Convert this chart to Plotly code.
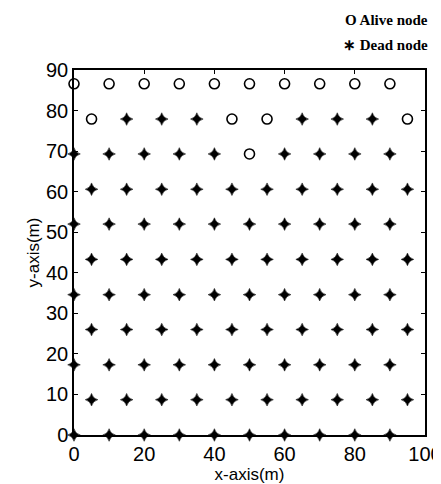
import plotly.graph_objects as go

# Node grid
alive_x = [0, 10, 20, 30, 40, 50, 60, 70, 80, 90, 5, 45, 55, 95, 50]
alive_y = [86.6, 86.6, 86.6, 86.6, 86.6, 86.6, 86.6, 86.6, 86.6, 86.6,
           77.9, 77.9, 77.9, 77.9, 69.3]

dead_x = (
    [0, 10, 20, 30, 40, 50, 60, 70, 80, 90]            # y = 0
    + [5, 15, 25, 35, 45, 55, 65, 75, 85, 95]          # y = 8.7
    + [0, 10, 20, 30, 40, 50, 60, 70, 80, 90]          # y = 17.3
    + [5, 15, 25, 35, 45, 55, 65, 75, 85, 95]          # y = 26
    + [0, 10, 20, 30, 40, 50, 60, 70, 80, 90]          # y = 34.6
    + [5, 15, 25, 35, 45, 55, 65, 75, 85, 95]          # y = 43.3
    + [0, 10, 20, 30, 40, 50, 60, 70, 80, 90]          # y = 52
    + [5, 15, 25, 35, 45, 55, 65, 75, 85, 95]          # y = 60.6
    + [0, 10, 20, 30, 40, 60, 70, 80, 90]              # y = 69.3
    + [15, 25, 35, 65, 75, 85]                         # y = 77.9
)
dead_y = (
    [0.0] * 10
    + [8.7] * 10
    + [17.3] * 10
    + [26.0] * 10
    + [34.6] * 10
    + [43.3] * 10
    + [52.0] * 10
    + [60.6] * 10
    + [69.3] * 9
    + [77.9] * 6
)

x_ticks = [0, 20, 40, 60, 80, 100]
y_ticks = [0, 10, 20, 30, 40, 50, 60, 70, 80, 90]

fig = go.Figure()
fig.add_trace(go.Scatter(
    x=dead_x, y=dead_y, mode="markers", name="Dead node",
    marker=dict(symbol="star-diamond", size=9, color="black",
                line=dict(color="black", width=0.5)),
    cliponaxis=False, showlegend=False))
fig.add_trace(go.Scatter(
    x=alive_x, y=alive_y, mode="markers", name="Alive node",
    marker=dict(symbol="circle-open", size=10, color="black",
                line=dict(color="black", width=1.6)),
    cliponaxis=False, showlegend=False))

axis_common = dict(showgrid=False, zeroline=False, showline=True,
                   linecolor="black", linewidth=1.5, mirror="allticks",
                   ticks="inside", ticklen=4, tickcolor="black", automargin=False,
                   ticklabeloverflow="allow",
                   tickfont=dict(family="Arial", size=20, color="black"))

fig.update_xaxes(range=[0, 100], tickvals=x_ticks,
                 title=dict(text="x-axis(m)", font=dict(family="Arial", size=17, color="black"),
                            standoff=0),
                 **axis_common)
fig.update_yaxes(range=[0, 90], tickvals=y_ticks, ticklabelstandoff=0,
                 title=dict(text="y-axis(m)", font=dict(family="Arial", size=17, color="black"),
                            standoff=2),
                 **axis_common)

fig.add_annotation(text="<b>O Alive node</b>", xref="paper", yref="paper",
                   x=1.015, y=1.137, xanchor="right", yanchor="middle", showarrow=False,
                   font=dict(family="Liberation Serif", size=15, color="black"))
fig.add_annotation(text="<b>∗ Dead node</b>", xref="paper", yref="paper",
                   x=1.015, y=1.068, xanchor="right", yanchor="middle", showarrow=False,
                   font=dict(family="Liberation Serif", size=15, color="black"))

# page body adds an 8px offset, so the figure is 8px smaller on each side
fig.update_layout(width=433, height=476, paper_bgcolor="white", plot_bgcolor="white",
                  margin=dict(l=66, r=16, t=62, b=49))

fig.write_html("out.html")
